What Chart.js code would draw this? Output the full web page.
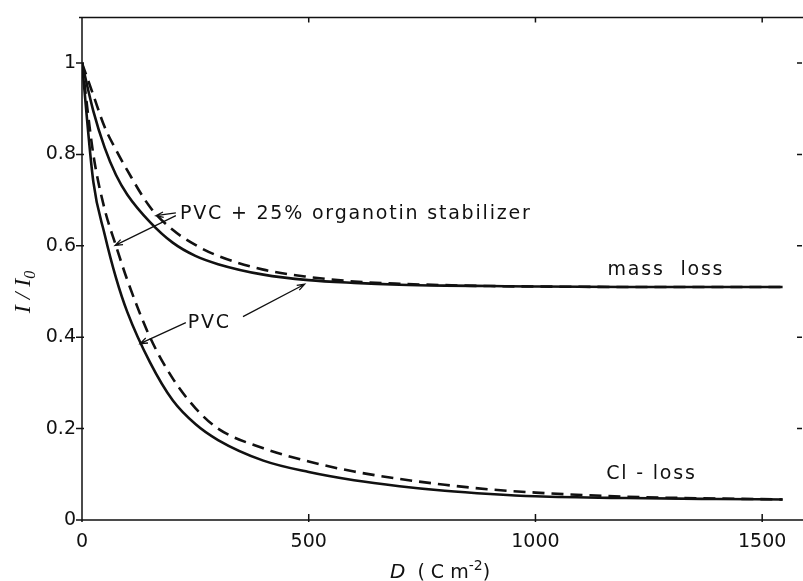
<!DOCTYPE html>
<html>
<head>
<meta charset="utf-8">
<script src="https://cdn.jsdelivr.net/npm/chart.js@4"></script>
<style>
  body { margin: 0; background: #fff; }
  #wrap { width: 803px; height: 581px; }
</style>
</head>
<body>
<div id="wrap"><canvas id="lossChart"></canvas></div>
<script>
// dose D (C m^-2) and relative intensity I/I0
const dose = [0, 25, 50, 75, 100, 150, 200, 250, 300, 400, 500, 600, 700, 800, 900, 1000, 1200, 1400, 1545];
const massPVC  = [1.0, 0.895, 0.815, 0.755, 0.712, 0.652, 0.607, 0.578, 0.56, 0.537, 0.525, 0.519, 0.515, 0.513, 0.512, 0.511, 0.51, 0.51, 0.51];
const massStab = [1.0, 0.93, 0.86, 0.81, 0.765, 0.685, 0.635, 0.602, 0.578, 0.548, 0.532, 0.522, 0.517, 0.514, 0.512, 0.511, 0.51, 0.51, 0.51];
const clPVC    = [1.0, 0.74, 0.625, 0.53, 0.455, 0.345, 0.262, 0.21, 0.175, 0.13, 0.105, 0.087, 0.074, 0.064, 0.057, 0.052, 0.048, 0.046, 0.045];
const clStab   = [1.0, 0.8, 0.68, 0.6, 0.525, 0.4, 0.31, 0.245, 0.2, 0.157, 0.128, 0.106, 0.09, 0.077, 0.067, 0.06, 0.051, 0.047, 0.045];

const xTicks = [0, 500, 1000, 1500];
const yTicks = [0, 0.2, 0.4, 0.6, 0.8, 1];

const ink = '#111';
const pts = ys => ys.map((y, i) => ({ x: dose[i], y: y }));

function line(data, dashed) {
  return {
    data: data,
    borderColor: ink,
    borderWidth: 2.6,
    borderDash: dashed ? [12, 7] : [],
    pointRadius: 0,
    cubicInterpolationMode: 'monotone',
    fill: false
  };
}

// frame, ticks, arrows and text labels
const decor = {
  id: 'decor',
  afterDraw(chart) {
    const { ctx, chartArea: a, scales: { x, y } } = chart;
    const px = v => x.getPixelForValue(v);
    const py = v => y.getPixelForValue(v);
    ctx.save();
    ctx.strokeStyle = ink;
    ctx.fillStyle = ink;
    ctx.lineWidth = 1.5;
    ctx.beginPath();
    ctx.moveTo(a.left - 3, a.top); ctx.lineTo(a.right, a.top);
    ctx.moveTo(a.left, a.top); ctx.lineTo(a.left, a.bottom);
    ctx.moveTo(a.left, a.bottom); ctx.lineTo(a.right, a.bottom);
    xTicks.forEach(v => {
      ctx.moveTo(px(v), a.bottom + 2); ctx.lineTo(px(v), a.bottom - 6);
      ctx.moveTo(px(v), a.top); ctx.lineTo(px(v), a.top + 5);
    });
    yTicks.forEach(v => {
      ctx.moveTo(a.left - 6, py(v)); ctx.lineTo(a.left + 2, py(v));
      ctx.moveTo(a.right - 1, py(v)); ctx.lineTo(a.right - 6, py(v));
    });
    ctx.stroke();

    // arrows
    ctx.lineWidth = 1.3;
    const arrow = (x1, y1, x2, y2) => {
      const X1 = px(x1), Y1 = py(y1), X2 = px(x2), Y2 = py(y2);
      const ang = Math.atan2(Y2 - Y1, X2 - X1);
      ctx.beginPath();
      ctx.moveTo(X1, Y1); ctx.lineTo(X2, Y2);
      ctx.moveTo(X2 - 8 * Math.cos(ang - 0.35), Y2 - 8 * Math.sin(ang - 0.35));
      ctx.lineTo(X2, Y2);
      ctx.lineTo(X2 - 8 * Math.cos(ang + 0.35), Y2 - 8 * Math.sin(ang + 0.35));
      ctx.stroke();
    };
    arrow(207, 0.672, 163, 0.666);
    arrow(207, 0.666, 73, 0.601);
    arrow(229, 0.432, 128, 0.386);
    arrow(355, 0.445, 491, 0.516);

    // labels
    ctx.font = '19px "DejaVu Sans"';
    ctx.letterSpacing = '1.8px';
    ctx.textBaseline = 'middle';
    ctx.textAlign = 'left';
    ctx.fillText('PVC + 25% organotin stabilizer', px(216), py(0.67));
    ctx.fillText('PVC', px(233), py(0.432));
    ctx.fillText('mass  loss', px(1159), py(0.547));
    ctx.fillText('Cl - loss', px(1156), py(0.1));
    ctx.letterSpacing = '0px';

    // x title: D (C m^-2)
    ctx.textBaseline = 'alphabetic';
    const xt = [
      { t: 'D', f: 'italic 20px "DejaVu Sans"', dy: 0 },
      { t: '  ( C m', f: '19px "DejaVu Sans"', dy: 0 },
      { t: '-2', f: '14px "DejaVu Sans"', dy: -8 },
      { t: ')', f: '19px "DejaVu Sans"', dy: 0 }
    ];
    let w = 0;
    xt.forEach(p => { ctx.font = p.f; w += ctx.measureText(p.t).width; });
    let cx = 440 - w / 2;
    xt.forEach(p => { ctx.font = p.f; ctx.fillText(p.t, cx, 578 + p.dy); cx += ctx.measureText(p.t).width; });

    // y title: I/I0 rotated
    ctx.translate(30, 292);
    ctx.rotate(-Math.PI / 2);
    ctx.font = 'italic 24px "Liberation Serif"';
    const main = 'I / I';
    const mw = ctx.measureText(main).width;
    ctx.font = 'italic 16px "Liberation Serif"';
    const sw = ctx.measureText('0').width;
    const sx = -(mw + sw) / 2;
    ctx.font = 'italic 24px "Liberation Serif"';
    ctx.fillText(main, sx, 0);
    ctx.font = 'italic 16px "Liberation Serif"';
    ctx.fillText('0', sx + mw, 5);
    ctx.restore();
  }
};

const ctx = document.getElementById('lossChart').getContext('2d');
const lossChart = new Chart(ctx, {
  type: 'line',
  data: {
    datasets: [
      line(pts(massPVC), false),
      line(pts(massStab), true),
      line(pts(clPVC), false),
      line(pts(clStab), true)
    ]
  },
  options: {
    responsive: true,
    maintainAspectRatio: false,
    animation: false,
    layout: { padding: { top: 13, right: 0, left: 0, bottom: 0 } },
    plugins: { legend: { display: false }, tooltip: { enabled: false } },
    scales: {
      x: {
        type: 'linear',
        min: 0,
        max: 1590,
        grid: { display: false, drawTicks: false },
        border: { display: false },
        afterBuildTicks: s => { s.ticks = xTicks.map(v => ({ value: v })); },
        afterFit: s => { s.height = 61; },
        ticks: {
          color: ink,
          padding: 11,
          maxRotation: 0,
          font: { family: 'DejaVu Sans', size: 19 },
          callback: v => String(v)
        }
      },
      y: {
        min: 0,
        max: 1.1,
        grid: { display: false, drawTicks: false },
        border: { display: false },
        afterBuildTicks: s => { s.ticks = yTicks.map(v => ({ value: v })); },
        afterFit: s => { s.width = 82; },
        ticks: {
          color: ink,
          padding: 6,
          font: { family: 'DejaVu Sans', size: 19 },
          callback: v => (v === 0 || v === 1) ? String(v) : v.toFixed(1)
        }
      }
    }
  },
  plugins: [decor]
});
</script>
</body>
</html>
